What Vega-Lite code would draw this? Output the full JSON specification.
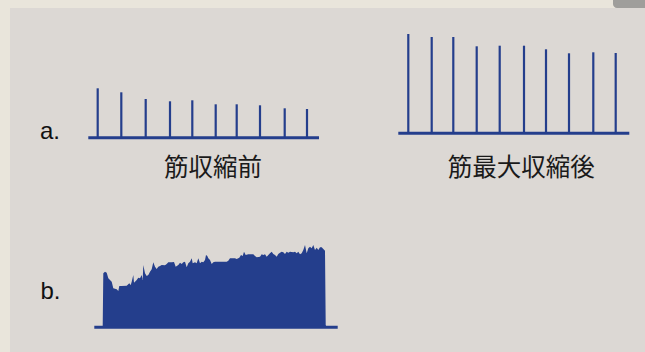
{
  "$schema": "https://vega.github.io/schema/vega-lite/v6.json",
  "width": 645,
  "height": 352,
  "autosize": {"type": "fit", "contains": "padding"},
  "padding": 0,
  "background": "#e9e5db",
  "config": {"view": {"stroke": null}},
  "layer": [
    {
      "data": {"values": [{"x": 10, "x2": 645, "y": 0, "y2": 344}]},
      "mark": {"type": "rect", "color": "#dcd8d4"},
      "encoding": {
        "x": {"field": "x", "type": "quantitative", "scale": {"domain": [0, 645], "nice": false, "zero": false}, "axis": null},
        "x2": {"field": "x2"},
        "y": {"field": "y", "type": "quantitative", "scale": {"domain": [0, 352], "nice": false, "zero": false}, "axis": null},
        "y2": {"field": "y2"}
      }
    },
    {
      "data": {"values": [{"x": 613, "x2": 645, "y": 344, "y2": 352}]},
      "mark": {"type": "rect", "color": "#9f9e9b", "cornerRadiusBottomLeft": 5},
      "encoding": {
        "x": {"field": "x", "type": "quantitative", "axis": null},
        "x2": {"field": "x2"},
        "y": {"field": "y", "type": "quantitative", "axis": null},
        "y2": {"field": "y2"}
      }
    },
    {
      "data": {"values": [
        {"t": 102.7, "f": 25}, {"t": 103.3, "f": 78.7}, {"t": 105, "f": 80.3}, {"t": 106.7, "f": 79.3},
        {"t": 108.3, "f": 73.7}, {"t": 110, "f": 72}, {"t": 111.7, "f": 70.3}, {"t": 113.3, "f": 63.7},
        {"t": 116.7, "f": 62.7}, {"t": 118.3, "f": 61}, {"t": 119.3, "f": 66}, {"t": 121.7, "f": 66},
        {"t": 126.7, "f": 66.3}, {"t": 129.3, "f": 68.7}, {"t": 130.7, "f": 67}, {"t": 131.7, "f": 70.3},
        {"t": 133.3, "f": 77}, {"t": 134, "f": 69.3}, {"t": 136.7, "f": 72}, {"t": 138.3, "f": 74.3},
        {"t": 140, "f": 73.7}, {"t": 141.7, "f": 77}, {"t": 142.7, "f": 72}, {"t": 143.3, "f": 87},
        {"t": 145, "f": 78.7}, {"t": 146.7, "f": 76}, {"t": 148.3, "f": 77}, {"t": 150, "f": 80.3},
        {"t": 151.7, "f": 82.7}, {"t": 153.3, "f": 89.7}, {"t": 155, "f": 85.3}, {"t": 156.7, "f": 83},
        {"t": 158.3, "f": 85.3}, {"t": 160, "f": 86}, {"t": 161.7, "f": 87}, {"t": 165, "f": 86.7},
        {"t": 166.7, "f": 88}, {"t": 168.3, "f": 89.7}, {"t": 171.7, "f": 89.7}, {"t": 174, "f": 90},
        {"t": 175.7, "f": 85.3}, {"t": 178.3, "f": 87}, {"t": 180, "f": 89.3}, {"t": 181.7, "f": 88},
        {"t": 183.3, "f": 89.7}, {"t": 185, "f": 90.3}, {"t": 186.7, "f": 84.7}, {"t": 188.3, "f": 88.7},
        {"t": 190, "f": 90.3}, {"t": 191.7, "f": 93.7}, {"t": 192.7, "f": 88.7}, {"t": 195, "f": 89.7},
        {"t": 196.7, "f": 88.7}, {"t": 198.3, "f": 93.7}, {"t": 200, "f": 88.7}, {"t": 201.7, "f": 90.3},
        {"t": 203.3, "f": 89.7}, {"t": 205, "f": 92}, {"t": 206, "f": 97}, {"t": 207.3, "f": 96},
        {"t": 208.3, "f": 93.7}, {"t": 210, "f": 92}, {"t": 211.7, "f": 88}, {"t": 213.3, "f": 89.7},
        {"t": 215, "f": 90.3}, {"t": 226.7, "f": 90.3}, {"t": 228.3, "f": 91.3}, {"t": 230, "f": 93.7},
        {"t": 235, "f": 93.7}, {"t": 236.7, "f": 93}, {"t": 239.3, "f": 94.3}, {"t": 241, "f": 97},
        {"t": 242.7, "f": 96}, {"t": 244, "f": 100.3}, {"t": 245.7, "f": 97}, {"t": 248.3, "f": 97.7},
        {"t": 253.3, "f": 97.7}, {"t": 255, "f": 96}, {"t": 256.7, "f": 94.7}, {"t": 260, "f": 95.3},
        {"t": 261.7, "f": 97.7}, {"t": 263.3, "f": 97}, {"t": 265, "f": 97.7}, {"t": 266.7, "f": 95.3},
        {"t": 268.3, "f": 97}, {"t": 270, "f": 98.7}, {"t": 271.7, "f": 100.3}, {"t": 273.3, "f": 98},
        {"t": 275, "f": 97}, {"t": 276.7, "f": 95.3}, {"t": 278.3, "f": 98}, {"t": 280, "f": 99.3},
        {"t": 281.7, "f": 100.3}, {"t": 283.3, "f": 99.7}, {"t": 285, "f": 98}, {"t": 286.7, "f": 100.3},
        {"t": 288.3, "f": 99.3}, {"t": 290, "f": 100.3}, {"t": 293.3, "f": 99.7}, {"t": 295, "f": 100.3},
        {"t": 296.7, "f": 98.7}, {"t": 298.3, "f": 100.3}, {"t": 300, "f": 97.7}, {"t": 301.7, "f": 98.7},
        {"t": 303.3, "f": 102}, {"t": 305, "f": 107}, {"t": 306.7, "f": 98.7}, {"t": 308.3, "f": 103.7},
        {"t": 310, "f": 105.3}, {"t": 311.7, "f": 103.7}, {"t": 313.3, "f": 107}, {"t": 315, "f": 102},
        {"t": 316.7, "f": 104.3}, {"t": 318.3, "f": 102}, {"t": 320, "f": 104.7}, {"t": 321.7, "f": 104.7},
        {"t": 323.3, "f": 103}, {"t": 325, "f": 101.3}, {"t": 325.7, "f": 27}, {"t": 326.5, "f": 25}
      ]},
      "mark": {"type": "area", "color": "#243e8c", "opacity": 1},
      "encoding": {
        "x": {"field": "t", "type": "quantitative", "axis": null},
        "y": {"field": "f", "type": "quantitative", "axis": null},
        "y2": {"datum": 25}
      }
    },
    {
      "data": {"values": [
        {"x": 88.3, "x2": 319, "y": 214.3},
        {"x": 398.3, "x2": 629.3, "y": 218.7},
        {"x": 94.3, "x2": 337.7, "y": 24.8}
      ]},
      "mark": {"type": "rule", "color": "#243e8c", "strokeWidth": 3},
      "encoding": {
        "x": {"field": "x", "type": "quantitative", "axis": null},
        "x2": {"field": "x2"},
        "y": {"field": "y", "type": "quantitative", "axis": null}
      }
    },
    {
      "data": {"values": [
        {"x": 97.7, "top": 263.7, "base": 214.3}, {"x": 121.3, "top": 259.7, "base": 214.3},
        {"x": 145.7, "top": 253, "base": 214.3}, {"x": 170, "top": 250.7, "base": 214.3},
        {"x": 192.3, "top": 251.7, "base": 214.3}, {"x": 215.7, "top": 247.7, "base": 214.3},
        {"x": 236.7, "top": 247.7, "base": 214.3}, {"x": 260, "top": 246.7, "base": 214.3},
        {"x": 284.7, "top": 243.7, "base": 214.3}, {"x": 307, "top": 243, "base": 214.3},
        {"x": 408.3, "top": 318, "base": 218.7}, {"x": 431.7, "top": 315, "base": 218.7},
        {"x": 453.3, "top": 315, "base": 218.7}, {"x": 476.7, "top": 305.7, "base": 218.7},
        {"x": 499.7, "top": 306.3, "base": 218.7}, {"x": 524, "top": 306.3, "base": 218.7},
        {"x": 546, "top": 302.7, "base": 218.7}, {"x": 569, "top": 298.7, "base": 218.7},
        {"x": 593.3, "top": 299.7, "base": 218.7}, {"x": 615.7, "top": 299, "base": 218.7}
      ]},
      "mark": {"type": "rule", "color": "#243e8c", "strokeWidth": 2.2},
      "encoding": {
        "x": {"field": "x", "type": "quantitative", "axis": null},
        "y": {"field": "top", "type": "quantitative", "axis": null},
        "y2": {"field": "base"}
      }
    },
    {
      "data": {"values": [
        {"label": "a.", "x": 40, "y": 213},
        {"label": "b.", "x": 40.5, "y": 52.7}
      ]},
      "mark": {"type": "text", "font": "Liberation Sans", "fontSize": 24, "align": "left", "baseline": "alphabetic", "color": "#111111"},
      "encoding": {
        "x": {"field": "x", "type": "quantitative", "axis": null},
        "y": {"field": "y", "type": "quantitative", "axis": null},
        "text": {"field": "label"}
      }
    },
    {
      "data": {"values": [
        {"label": "筋収縮前", "x": 213, "y": 182.7},
        {"label": "筋最大収縮後", "x": 521.3, "y": 182.7}
      ]},
      "mark": {"type": "text", "font": "Noto Sans CJK JP", "fontSize": 24.5, "align": "center", "baseline": "middle", "color": "#1a1a1a"},
      "encoding": {
        "x": {"field": "x", "type": "quantitative", "axis": null},
        "y": {"field": "y", "type": "quantitative", "axis": null},
        "text": {"field": "label"}
      }
    }
  ]
}
